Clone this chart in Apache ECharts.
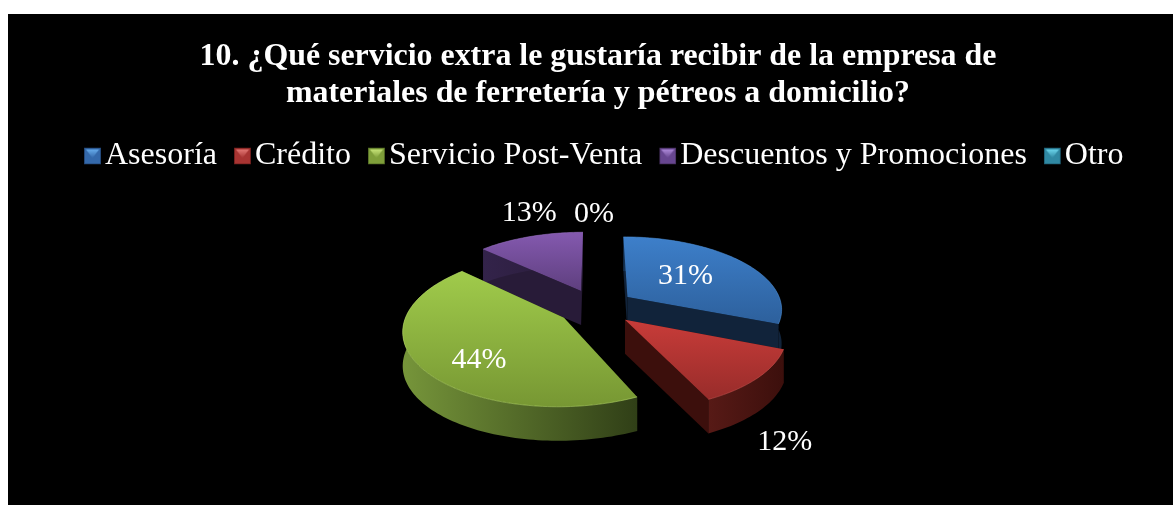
<!DOCTYPE html>
<html><head><meta charset="utf-8">
<style>html,body{margin:0;padding:0;background:#fff}#c{width:1173px;height:505px}</style>
<script src="https://cdn.jsdelivr.net/npm/echarts@6/dist/echarts.min.js"></script>
</head><body><div id="c"></div>
<script>
const categories = ['Asesoría','Crédito','Servicio Post-Venta','Descuentos y Promociones','Otro'];
const values = [31,12,44,13,0];
const labels = ['31%','12%','44%','13%','0%'];
const drawOrder = [4,3,0,2,1];
const topLight = ['#3d7fca','#c83c39','#a0cb4b','#8459af','#3fa9c6'];
const topDark = ['#2d609c','#982c2a','#779733','#5e3f7e','#2e7f96'];
const wallLight = ['#15304f','#571a16','#76953a','#33234a','#1c5060'];
const wallDark = ['#11233a','#3c0f0c','#303f17','#281b38','#143a46'];
const edge = ['#4d8ed6','#d05350','#b6da6a','#9670bd','#5cbcd6'];
const iconBase = ['#3469ab','#a83432','#7f9f3a','#674690','#3089a3'];
const iconLight = ['#6bb2f2','#e87e7a','#cdea7e','#b48fe0','#70dcf2'];
const iconEdge = ['#24497a','#75201e','#566f26','#47305f','#1f6076'];

// projection geometry of the exploded, tilted pie
const geo = {cx:596, cy:307, A:155, B:72, k:0.15, explode:0.25, depth:34};
// radial placement of each percentage label, and a nudge in pixels
const labelPlace = [{r:.5,dx:-1,dy:-2},{r:1.42,dx:-39,dy:36},{r:.78,dx:25,dy:5},{r:1.6,dx:24,dy:4},{r:1.64,dx:-2,dy:13}];

const total = values.reduce((a,b)=>a+b,0);
const starts = values.map((_,i)=>values.slice(0,i).reduce((a,b)=>a+b,0)/total*Math.PI*2);

function project(xw,yw){
  const s = 1/(1-geo.k*yw);
  return [geo.cx+geo.A*xw*s, geo.cy+geo.B*yw*s];
}
function arcPts(a0,a1,ox,oy,n){
  const p=[];
  for(let j=0;j<=n;j++){
    const a=a0+(a1-a0)*j/n;
    p.push(project(ox+Math.sin(a),oy-Math.cos(a)));
  }
  return p;
}
const grad=(x2,y2,c0,c1)=>({type:'linear',x:0,y:0,x2,y2,colorStops:[{offset:0,color:c0},{offset:1,color:c1}]});
const down=p=>p.map(q=>[q[0],q[1]+geo.depth]);

function makeRender(i){
  return function(params,api){
    const sweep=api.value(0)/total*Math.PI*2, a0=starts[i], a1=a0+sweep, m=(a0+a1)/2;
    const ox=geo.explode*Math.sin(m), oy=-geo.explode*Math.cos(m);
    const children=[];
    if(sweep>0){
      const apex=project(ox,oy);
      const arc=arcPts(a0,a1,ox,oy,Math.max(8,Math.round(sweep*40)));
      const wallFill=grad(1,0,wallLight[i],wallDark[i]);
      [arc[0],arc[arc.length-1]].forEach(c=>{
        children.push({type:'polygon',shape:{points:[apex,c,[c[0],c[1]+geo.depth],[apex[0],apex[1]+geo.depth]]},
          style:{fill:wallDark[i]}});
      });
      children.push({type:'polygon',shape:{points:arc.concat(down(arc).reverse())},style:{fill:wallFill}});
      children.push({type:'polygon',shape:{points:[apex].concat(arc)},style:{fill:grad(0,1,topLight[i],topDark[i])}});
      children.push({type:'polyline',shape:{points:arc},style:{fill:null,stroke:edge[i],lineWidth:1,opacity:.55}});
    }
    const p=labelPlace[i];
    const lp=project(ox+p.r*Math.sin(m),oy-p.r*Math.cos(m));
    children.push({type:'text',style:{text:labels[i],x:lp[0]+p.dx,y:lp[1]+p.dy,fill:'#fff',
      font:'30px "Liberation Serif"',textAlign:'center',textVerticalAlign:'middle'}});
    return {type:'group',children};
  };
}

// bevelled legend swatch, painted once and used as the legend icon's fill
function swatch(i){
  const S=17,c=document.createElement('canvas');c.width=S;c.height=S;
  const g=c.getContext('2d');
  g.fillStyle=iconEdge[i];g.fillRect(0,0,S,S);
  g.fillStyle=iconBase[i];g.fillRect(1,1,S-2,S-2);
  const t=g.createLinearGradient(0,1,0,S/2+2);t.addColorStop(0,iconLight[i]);t.addColorStop(1,iconBase[i]);
  g.fillStyle=t;g.beginPath();g.moveTo(2,2);g.lineTo(S-2,2);g.lineTo(S/2,S/2+2);g.closePath();g.fill();
  return {image:c,repeat:'no-repeat'};
}

const series=drawOrder.map(i=>({
  type:'custom',name:categories[i],coordinateSystem:'none',silent:true,
  itemStyle:{color:topLight[i]},data:[[values[i]]],renderItem:makeRender(i),animation:false
}));

const chart=echarts.init(document.getElementById('c'),null,{renderer:'canvas'});
chart.setOption({
  animation:false,
  backgroundColor:'#fff',
  graphic:[{type:'rect',z:-10,shape:{x:8,y:14,width:1165,height:491},style:{fill:'#000'}}],
  title:{text:'10. ¿Qué servicio extra le gustaría recibir de la empresa de\nmateriales de ferretería y pétreos a domicilio?',
    left:593,top:33,textAlign:'center',
    textStyle:{color:'#fff',fontFamily:'"Liberation Serif"',fontWeight:'bold',fontSize:31.9,lineHeight:37}},
  legend:{left:79,top:135,itemWidth:17,itemHeight:17,itemGap:17,icon:'rect',width:1090,selectedMode:false,
    textStyle:{color:'#fff',fontFamily:'"Liberation Serif"',fontSize:32,padding:[0,0,0,-1]},
    data:categories.map((n,i)=>({name:n,itemStyle:{color:swatch(i)}}))},
  series
});
</script></body></html>
